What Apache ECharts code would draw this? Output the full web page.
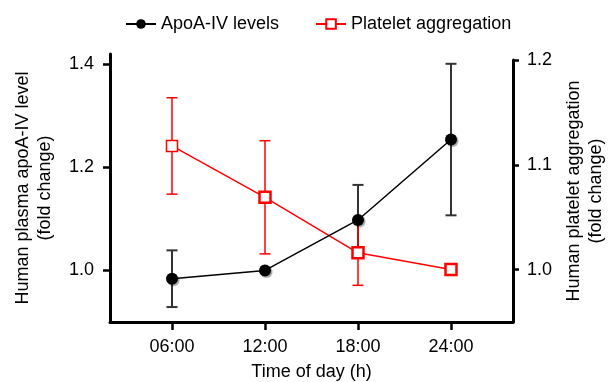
<!DOCTYPE html>
<html>
<head>
<meta charset="utf-8">
<script src="https://cdn.jsdelivr.net/npm/echarts@6/dist/echarts.min.js"></script>
<style>
  html, body { margin: 0; padding: 0; background: #fff; }
  #chart { width: 614px; height: 382px; }
</style>
</head>
<body>
<div id="chart"></div>
<script>
// time of day (hours) and their labels
var hours = [6, 12, 18, 24];
var hourLabels = ['06:00', '12:00', '18:00', '24:00'];

// ApoA-IV levels (left axis), mean and error
var apoaMean = [0.984, 1.0, 1.098, 1.254];
var apoaErr = [0.055, 0, 0.068, 0.147];

// platelet aggregation (right axis), mean and error
var plateletMean = [1.118, 1.069, 1.016, 1.0];
var plateletErr = [0.046, 0.054, 0.031, 0];

var leftTicks = [1.0, 1.2, 1.4];
var rightTicks = [1.0, 1.1, 1.2];

var font = 'Liberation Sans, Arial, Helvetica, sans-serif';
var chart = echarts.init(document.getElementById('chart'));

function errorBars(name, mean, err, color, width, idx) {
    var data = hours.map(function (h, i) {
        return [h, mean[i] - err[i], mean[i] + err[i]];
    });
    return {
        type: 'custom',
        name: name,
        xAxisIndex: idx,
        yAxisIndex: idx,
        silent: true,
        z: 1,
        data: data,
        encode: { x: 0, y: [1, 2] },
        renderItem: function (params, api) {
            var x = api.value(0);
            if (api.value(2) - api.value(1) <= 0) return null;
            var lo = api.coord([x, api.value(1)]);
            var hi = api.coord([x, api.value(2)]);
            var cap = 5.5;
            var st = { stroke: color, lineWidth: width };
            return {
                type: 'group',
                children: [
                    { type: 'line', shape: { x1: lo[0], y1: lo[1], x2: hi[0], y2: hi[1] }, style: st },
                    { type: 'line', shape: { x1: lo[0] - cap, y1: lo[1], x2: lo[0] + cap, y2: lo[1] }, style: st },
                    { type: 'line', shape: { x1: hi[0] - cap, y1: hi[1], x2: hi[0] + cap, y2: hi[1] }, style: st }
                ]
            };
        }
    };
}

var axisLine = { show: true, lineStyle: { color: '#000', width: 3 } };

option = {
    animation: false,
    textStyle: { fontFamily: font },
    legend: {
        top: 10,
        left: 120,
        itemWidth: 30,
        itemHeight: 12,
        itemGap: 36,
        textStyle: { fontSize: 18, color: '#000', fontFamily: font },
        data: ['ApoA-IV levels', 'Platelet aggregation']
    },
    grid: [
        { left: 110, right: 101, top: 54, bottom: 60, outerBoundsMode: 'none' },
        { left: 110, right: 101, top: 60, bottom: 60, outerBoundsMode: 'none' }
    ],
    xAxis: [{
        type: 'value',
        gridIndex: 0,
        min: 2,
        max: 28,
        axisLine: axisLine,
        axisTick: { show: true, customValues: hours, length: 8, lineStyle: { color: '#000', width: 2.5 } },
        axisLabel: {
            customValues: hours,
            margin: 16,
            fontSize: 18,
            color: '#000',
            formatter: function (v) { return hourLabels[hours.indexOf(v)]; }
        },
        splitLine: { show: false },
        name: 'Time of day (h)',
        nameLocation: 'middle',
        nameGap: 41,
        nameTextStyle: { fontSize: 18, color: '#000' }
    }, {
        type: 'value',
        gridIndex: 1,
        min: 2,
        max: 28,
        show: false
    }],
    yAxis: [{
        type: 'value',
        gridIndex: 0,
        position: 'left',
        min: 0.9,
        max: 1.42,
        axisLine: axisLine,
        axisTick: { show: true, customValues: leftTicks, length: 7, lineStyle: { color: '#000', width: 2.5 } },
        axisLabel: {
            customValues: leftTicks,
            margin: 16,
            fontSize: 18,
            color: '#000',
            formatter: function (v) { return v.toFixed(1); }
        },
        splitLine: { show: false },
        name: 'Human plasma apoA-IV level\n(fold change)',
        nameLocation: 'middle',
        nameRotate: 90,
        nameGap: 54,
        nameTextStyle: { fontSize: 18, color: '#000', lineHeight: 22 }
    }, {
        type: 'value',
        gridIndex: 1,
        position: 'right',
        min: 0.95,
        max: 1.2,
        axisLine: axisLine,
        axisTick: { show: true, customValues: rightTicks, length: 6, lineStyle: { color: '#000', width: 2.5 } },
        axisLabel: {
            customValues: rightTicks,
            margin: 14,
            fontSize: 18,
            color: '#000',
            formatter: function (v) { return v.toFixed(1); }
        },
        splitLine: { show: false },
        name: 'Human platelet aggregation\n(fold change)',
        nameLocation: 'middle',
        nameRotate: 90,
        nameGap: 50,
        nameTextStyle: { fontSize: 18, color: '#000', lineHeight: 22 }
    }],
    series: [
        errorBars('ApoA-IV SD', apoaMean, apoaErr, '#333', 2, 0),
        errorBars('Platelet SD', plateletMean, plateletErr, '#ff0000', 1.5, 1),
        {
            name: 'Platelet aggregation',
            type: 'line',
            xAxisIndex: 1,
            yAxisIndex: 1,
            z: 3,
            data: hours.map(function (h, i) {
                var d = { value: [h, plateletMean[i]] };
                if (i === 0) d.itemStyle = { borderWidth: 1.5 };
                return d;
            }),
            symbol: 'rect',
            symbolSize: 11,
            lineStyle: { color: '#ff0000', width: 1.5 },
            itemStyle: { color: '#fff', borderColor: '#ff0000', borderWidth: 2.5 }
        },
        {
            name: 'ApoA-IV levels',
            type: 'line',
            xAxisIndex: 0,
            yAxisIndex: 0,
            z: 4,
            data: hours.map(function (h, i) { return [h, apoaMean[i]]; }),
            symbol: 'circle',
            symbolSize: 12,
            lineStyle: { color: '#000', width: 1.5 },
            itemStyle: {
                color: '#000',
                shadowColor: 'rgba(0,0,0,0.35)',
                shadowOffsetX: 1.5,
                shadowOffsetY: 1.5,
                shadowBlur: 1
            }
        }
    ]
};

chart.setOption(option);
window.addEventListener('resize', chart.resize);
</script>
</body>
</html>
